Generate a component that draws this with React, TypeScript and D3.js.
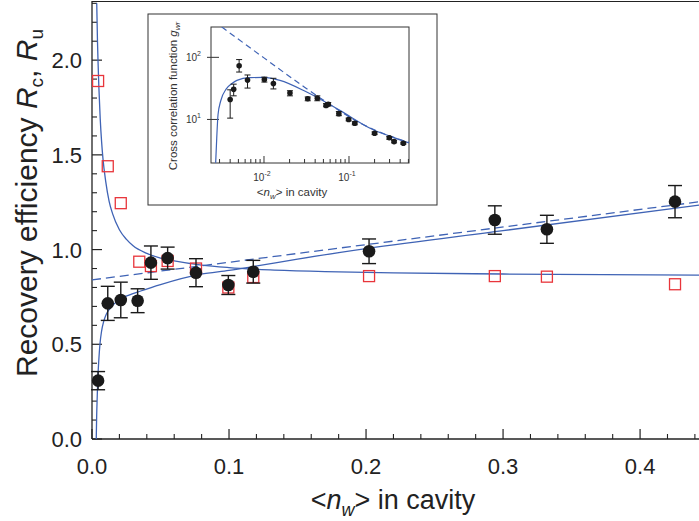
import React from "react";
import * as d3 from "d3";

// ---- main plot data ----
const nwX = [0.00445, 0.0115, 0.021, 0.0333, 0.043, 0.0552, 0.0759, 0.0995, 0.1177, 0.2022, 0.294, 0.332, 0.4255];
const rcVal = [0.308, 0.716, 0.734, 0.73, 0.931, 0.955, 0.878, 0.813, 0.883, 0.991, 1.156, 1.107, 1.253];
const rcErr = [0.048, 0.09, 0.094, 0.063, 0.088, 0.058, 0.074, 0.05, 0.06, 0.065, 0.075, 0.074, 0.085];
const ruX = [0.00445, 0.0115, 0.021, 0.0345, 0.043, 0.0552, 0.0759, 0.0995, 0.1177, 0.2022, 0.294, 0.332, 0.4255];
const ruVal = [1.89, 1.44, 1.245, 0.936, 0.913, 0.94, 0.9, 0.8, 0.855, 0.86, 0.86, 0.857, 0.817];

const ruFitX = [0.00345, 0.004, 0.0045, 0.005, 0.006, 0.007, 0.008, 0.01, 0.0125, 0.015, 0.02, 0.025, 0.03, 0.04, 0.05, 0.06, 0.08, 0.1, 0.13, 0.17, 0.22, 0.3, 0.443];
const ruFitY = [2.3, 2.1, 1.97, 1.86, 1.69, 1.57, 1.48, 1.36, 1.255, 1.19, 1.105, 1.055, 1.02, 0.98, 0.955, 0.94, 0.918, 0.905, 0.893, 0.884, 0.877, 0.871, 0.865];
const rcFitX = [0.0031, 0.0034, 0.0038, 0.0042, 0.005, 0.0058, 0.007, 0.0085, 0.0105, 0.0144, 0.02, 0.027, 0.035, 0.05, 0.0795, 0.1, 0.1175, 0.15, 0.2, 0.3, 0.443];
const rcFitY = [0.0, 0.12, 0.22, 0.31, 0.42, 0.5, 0.57, 0.62, 0.66, 0.7, 0.735, 0.76, 0.78, 0.815, 0.87, 0.89, 0.91, 0.95, 1.005, 1.1, 1.235];
const dashX = [0, 0.443];
const dashY = [0.84, 1.252];

const xMajor = [0, 0.1, 0.2, 0.3, 0.4];
const xMajorLabels = ["0.0", "0.1", "0.2", "0.3", "0.4"];
const yMajor = [0, 0.5, 1.0, 1.5, 2.0];
const yMajorLabels = ["0.0", "0.5", "1.0", "1.5", "2.0"];

// ---- inset data ----
const insetX = [0.004, 0.0044, 0.0051, 0.0064, 0.0101, 0.0129, 0.0202, 0.0327, 0.0424, 0.0537, 0.057, 0.076, 0.099, 0.117, 0.2, 0.298, 0.339, 0.436];
const insetG = [21, 30.5, 73, 43, 44, 38, 26.6, 21.6, 22, 16.8, 17.6, 12.4, 10, 8.7, 6.0, 5.07, 4.4, 4.15];
const insetLo = [10.5, 24, 58, 32, 40, 31, 24, 20, 20, 16, 16.5, 11.5, 9.5, 8.2, 5.7, 4.8, 4.2, 4.0];
const insetHi = [30, 37, 92, 52, 48, 46, 29, 23, 24, 18, 18.7, 13.4, 10.5, 9.2, 6.3, 5.3, 4.6, 4.3];
const gFitX = [0.0027, 0.00278, 0.00288, 0.0031, 0.0036, 0.0042, 0.0048, 0.0068, 0.0098, 0.0154, 0.0318, 0.078, 0.19, 0.3, 0.51];
const gFitY = [2.0, 5, 12, 20, 31, 38, 42.6, 47, 47.5, 42.6, 27.6, 14, 6.9, 5.4, 4.2];
const gDashX = [0.00318, 0.01, 0.03, 0.06, 0.1, 0.19, 0.3, 0.51];
const gDashY = [308, 98, 33, 17.3, 11, 7.0, 5.45, 4.25];
const insetXTicks = [0.01, 0.1];
const insetXTickExp = ["-2", "-1"];
const insetYTicks = [10, 100];
const insetYTickExp = ["1", "2"];

const BLUE = "#3f63b5";
const RED = "#e8353b";
const FONT = "'Liberation Sans', Arial, Helvetica, sans-serif";

export default function App() {
  const W = 699, H = 521;
  const x = d3.scaleLinear().domain([0, 0.443]).range([92, 699]);
  const y = d3.scaleLinear().domain([0, 2.307]).range([439, 2]);

  const line = d3.line<[number, number]>().x(d => x(d[0])).y(d => y(d[1])).curve(d3.curveMonotoneX);
  const ruPath = line(ruFitX.map((v, i) => [v, ruFitY[i]]) as [number, number][]) || "";
  const rcPath = line(rcFitX.map((v, i) => [v, rcFitY[i]]) as [number, number][]) || "";
  const dashPath = line(dashX.map((v, i) => [v, dashY[i]]) as [number, number][]) || "";

  const xMinor = d3.range(0, 0.4401, 0.02).filter(v => !xMajor.some(m => Math.abs(m - v) < 1e-6));
  const yMinor = d3.range(0, 2.3001, 0.1).filter(v => !yMajor.some(m => Math.abs(m - v) < 1e-6));

  // inset scales
  const ix = d3.scaleLog().domain([0.00238, 0.508]).range([211, 409]);
  const iy = d3.scaleLog().domain([1.99, 308]).range([163, 27]);
  const iline = d3.line<[number, number]>().x(d => ix(d[0])).y(d => iy(d[1])).curve(d3.curveMonotoneX);
  const gPath = iline(gFitX.map((v, i) => [v, gFitY[i]]) as [number, number][]) || "";
  const gDash = iline(gDashX.map((v, i) => [v, gDashY[i]]) as [number, number][]) || "";
  const iMinor: number[] = [];
  [0.001, 0.01, 0.1].forEach(dec => {
    for (let k = 2; k <= 9; k++) {
      const v = dec * k;
      if (v > 0.00238 && v < 0.508) iMinor.push(v);
    }
  });

  return (
    <svg width={W} height={H} style={{ position: "absolute", left: 0, top: 0, background: "#fff" }} fontFamily={FONT}>
      {/* frame */}
      <line x1={92} x2={699} y1={1.5} y2={1.5} stroke="#222" strokeWidth={1.2} />
      <line x1={92} x2={92} y1={1} y2={439} stroke="#222" strokeWidth={1.3} />
      <line x1={92} x2={699} y1={439} y2={439} stroke="#222" strokeWidth={1.3} />

      {/* x ticks */}
      {xMajor.map((v, i) => (
        <g key={"xm" + i}>
          <line x1={x(v)} x2={x(v)} y1={439} y2={429} stroke="#222" strokeWidth={1.2} />
          <text x={x(v)} y={474} textAnchor="middle" fontSize={22} fill="#222">{xMajorLabels[i]}</text>
        </g>
      ))}
      {xMinor.map((v, i) => (
        <line key={"xn" + i} x1={x(v)} x2={x(v)} y1={439} y2={434} stroke="#222" strokeWidth={1.1} />
      ))}
      {/* y ticks */}
      {yMajor.map((v, i) => (
        <g key={"ym" + i}>
          <line x1={92} x2={102} y1={y(v)} y2={y(v)} stroke="#222" strokeWidth={1.2} />
          <text x={82} y={y(v) + 8} textAnchor="end" fontSize={22} fill="#222">{yMajorLabels[i]}</text>
        </g>
      ))}
      {yMinor.map((v, i) => (
        <line key={"yn" + i} x1={92} x2={97} y1={y(v)} y2={y(v)} stroke="#222" strokeWidth={1.1} />
      ))}

      {/* axis titles */}
      <text transform="translate(37,203) rotate(-90)" textAnchor="middle" fontSize={30} fill="#222">
        Recovery efficiency <tspan fontStyle="italic">R</tspan><tspan fontSize={19} dy={6}>c</tspan>
        <tspan dy={-6}>, </tspan><tspan fontStyle="italic">R</tspan><tspan fontSize={19} dy={6}>u</tspan>
      </text>
      <text x={393} y={509} textAnchor="middle" fontSize={27} fill="#222">
        &lt;<tspan fontStyle="italic">n</tspan><tspan fontStyle="italic" fontSize={18} dy={7}>w</tspan><tspan dy={-7}>&gt; in cavity</tspan>
      </text>

      {/* fit curves */}
      <defs>
        <clipPath id="mainclip"><rect x={92} y={2} width={607} height={437} /></clipPath>
      </defs>
      <g clipPath="url(#mainclip)" fill="none" stroke={BLUE} strokeWidth={1.3}>
        <path d={ruPath} />
        <path d={rcPath} />
        <path d={dashPath} strokeDasharray="9,5" />
      </g>

      {/* Ru red open squares */}
      {ruX.map((v, i) => (
        <rect key={"ru" + i} x={x(v) - 5.5} y={y(ruVal[i]) - 5.5} width={11} height={11} fill="none" stroke={RED} strokeWidth={1.3} />
      ))}

      {/* Rc black circles with error bars */}
      {nwX.map((v, i) => {
        const cx = x(v);
        const y1 = y(rcVal[i] - rcErr[i]);
        const y2 = y(rcVal[i] + rcErr[i]);
        return (
          <g key={"rc" + i} stroke="#1a1a1a" strokeWidth={1.4}>
            <line x1={cx} x2={cx} y1={y1} y2={y2} />
            <line x1={cx - 7} x2={cx + 7} y1={y1} y2={y1} />
            <line x1={cx - 7} x2={cx + 7} y1={y2} y2={y2} />
            <circle cx={cx} cy={y(rcVal[i])} r={6.3} fill="#1a1a1a" stroke="none" />
          </g>
        );
      })}

      {/* inset */}
      <rect x={148} y={14} width={289} height={191} fill="#fff" stroke="#333" strokeWidth={1} />
      <rect x={211} y={27} width={198} height={136} fill="none" stroke="#333" strokeWidth={1} />
      {insetXTicks.map((v, i) => (
        <g key={"ixt" + i}>
          <line x1={ix(v)} x2={ix(v)} y1={163} y2={156} stroke="#333" strokeWidth={1} />
          <text x={ix(v) - 2} y={181} textAnchor="middle" fontSize={10} fill="#333">10<tspan fontSize={7} dy={-5}>{insetXTickExp[i]}</tspan></text>
        </g>
      ))}
      {iMinor.map((v, i) => (
        <line key={"ixn" + i} x1={ix(v)} x2={ix(v)} y1={163} y2={159} stroke="#333" strokeWidth={1} />
      ))}
      {insetYTicks.map((v, i) => (
        <g key={"iyt" + i}>
          <line x1={207} x2={219} y1={iy(v)} y2={iy(v)} stroke="#333" strokeWidth={1} />
          <text x={201} y={iy(v) + 4} textAnchor="end" fontSize={10} fill="#333">10<tspan fontSize={7} dy={-5}>{insetYTickExp[i]}</tspan></text>
        </g>
      ))}
      <text x={292} y={196} textAnchor="middle" fontSize={11.5} fill="#333">
        &lt;<tspan fontStyle="italic">n</tspan><tspan fontStyle="italic" fontSize={8} dy={3}>w</tspan><tspan dy={-3}>&gt; in cavity</tspan>
      </text>
      <text transform="translate(177,96) rotate(-90)" textAnchor="middle" fontSize={11.5} fill="#333">
        Cross correlation function <tspan fontStyle="italic">g</tspan><tspan fontStyle="italic" fontSize={8} dy={3}>wr</tspan>
      </text>
      <defs>
        <clipPath id="insetclip"><rect x={211} y={27} width={198} height={136} /></clipPath>
      </defs>
      <g clipPath="url(#insetclip)" fill="none" stroke={BLUE} strokeWidth={1.2}>
        <path d={gPath} />
        <path d={gDash} strokeDasharray="6,4" />
      </g>
      {insetX.map((v, i) => {
        const cx = ix(v);
        const y1 = iy(insetLo[i]);
        const y2 = iy(insetHi[i]);
        return (
          <g key={"ig" + i} stroke="#1a1a1a" strokeWidth={1}>
            <line x1={cx} x2={cx} y1={y1} y2={y2} />
            <line x1={cx - 3} x2={cx + 3} y1={y1} y2={y1} />
            <line x1={cx - 3} x2={cx + 3} y1={y2} y2={y2} />
            <circle cx={cx} cy={iy(insetG[i])} r={2.8} fill="#1a1a1a" stroke="none" />
          </g>
        );
      })}
    </svg>
  );
}
